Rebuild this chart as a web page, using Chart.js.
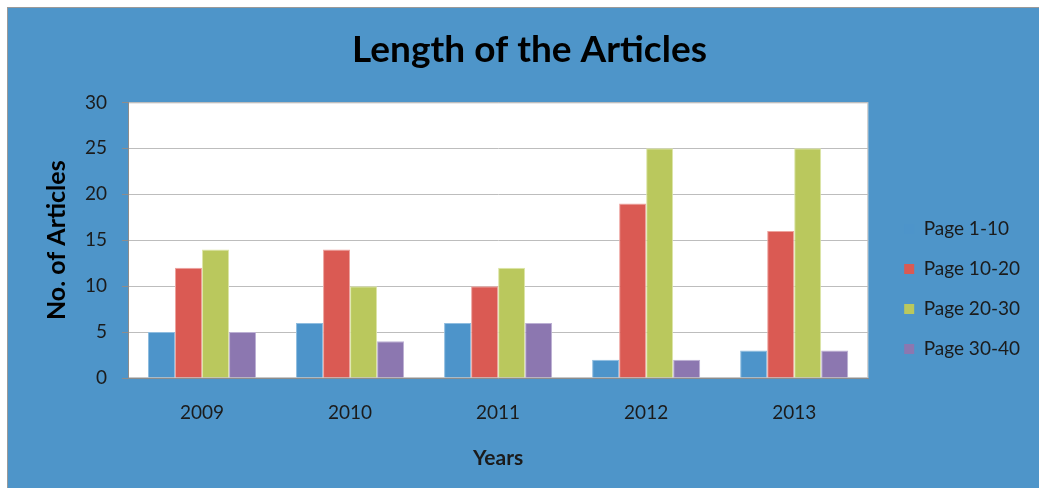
<!DOCTYPE html>
<html>
<head>
<meta charset="utf-8">
<script src="https://cdn.jsdelivr.net/npm/chart.js@4.4.1/dist/chart.umd.min.js"></script>
<style>
  html, body { margin: 0; padding: 0; background: #ffffff; }
  #frame {
    position: absolute; left: 7px; top: 7px;
    width: 1032px; height: 481px;
    border-left: 1px solid #9a9a9a; border-top: 1px solid #9a9a9a;
    background: #4e95c9;
  }
  #chart { display: block; }
</style>
</head>
<body>
<div id="frame"><canvas id="chart" width="1031" height="480"></canvas></div>
<script>
// Articles per year, grouped by page length
const years = ['2009', '2010', '2011', '2012', '2013'];
const seriesNames = ['Page 1-10', 'Page 10-20', 'Page 20-30', 'Page 30-40'];
const page1to10  = [5, 6, 6, 2, 3];
const page10to20 = [12, 14, 10, 19, 16];
const page20to30 = [14, 10, 12, 25, 25];
const page30to40 = [5, 4, 6, 2, 3];
const yTicks = [0, 5, 10, 15, 20, 25, 30];

const FONT = 'Lato, "Open Sans", sans-serif';
const INK = '#1b1b1b';

// White plot background with a light frame
const plotBackground = {
  id: 'plotBackground',
  beforeDraw(chart) {
    const { ctx, chartArea: a } = chart;
    ctx.save();
    ctx.fillStyle = '#ffffff';
    ctx.fillRect(a.left, a.top, a.right - a.left, a.bottom - a.top);
    ctx.strokeStyle = '#c8c8c8';
    ctx.lineWidth = 1;
    ctx.strokeRect(a.left + 0.5, a.top + 0.5, a.right - a.left - 1, a.bottom - a.top - 1);
    ctx.restore();
  }
};

// Nudge the legend block away from the plot, and centre the title on the full frame
const blockOffsets = {
  id: 'blockOffsets',
  afterLayout(chart) {
    const lg = chart.legend;
    if (lg) {
      const dx = 15, dy = 41;
      lg.left += dx; lg.right += dx;
      lg.top += dy; lg.bottom += dy;
    }
    const tb = chart.titleBlock;
    if (tb) {
      const tx = 18;
      tb.left += tx; tb.right += tx;
    }
  }
};

const colors = ['#4d94ca', '#da5a53', '#bac85d', '#8c77b0'];
const edges  = ['#8fbde0', '#eda39e', '#dde6a8', '#bcb0d4'];
const values = [page1to10, page10to20, page20to30, page30to40];

new Chart(document.getElementById('chart'), {
  type: 'bar',
  data: {
    labels: years,
    datasets: seriesNames.map((name, i) => ({
      label: name,
      data: values[i],
      backgroundColor: colors[i],
      borderColor: edges[i],
      borderWidth: 1,
      categoryPercentage: 0.73,
      barPercentage: 1.0
    }))
  },
  options: {
    responsive: false,
    animation: false,
    layout: { padding: { right: 24 } },
    plugins: {
      title: {
        display: true,
        text: 'Length of the Articles',
        color: '#000000',
        font: { family: FONT, size: 37, weight: 'bold' },
        padding: { top: 20, bottom: 30 }
      },
      legend: {
        position: 'right',
        labels: {
          color: INK,
          font: { family: FONT, size: 19 },
          boxWidth: 10,
          boxHeight: 10,
          padding: 21,
          generateLabels(chart) {
            return Chart.defaults.plugins.legend.labels.generateLabels(chart)
              .map(item => Object.assign(item, { lineWidth: 0 }));
          }
        }
      },
      tooltip: { enabled: false }
    },
    scales: {
      x: {
        grid: { display: false, drawTicks: false },
        border: { display: true, color: '#8c8c8c' },
        ticks: { color: INK, font: { family: FONT, size: 19 }, padding: 23 },
        title: {
          display: true,
          text: 'Years',
          color: INK,
          font: { family: FONT, size: 21, weight: 'bold' },
          padding: { top: 20, bottom: 17 }
        },
        afterFit(scale) { scale.height = 110; }
      },
      y: {
        min: 0,
        max: 30,
        afterBuildTicks(scale) { scale.ticks = yTicks.map(v => ({ value: v })); },
        grid: { color: '#bdbdbd', tickColor: '#8c8c8c', tickLength: 6, drawTicks: true },
        border: { display: true, color: '#8c8c8c' },
        ticks: { color: INK, font: { family: FONT, size: 19 }, padding: 15 },
        title: {
          display: true,
          text: 'No. of Articles',
          color: '#000000',
          font: { family: FONT, size: 25, weight: 'bold' },
          padding: { top: 34, bottom: 0 }
        },
        afterFit(scale) { scale.width = 120; }
      }
    }
  },
  plugins: [plotBackground, blockOffsets]
});
</script>
</body>
</html>
